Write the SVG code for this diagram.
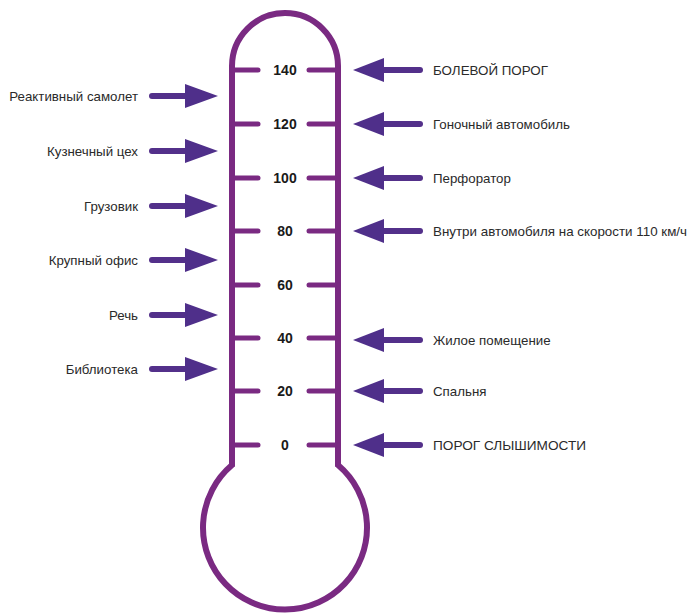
<svg xmlns="http://www.w3.org/2000/svg" width="690" height="615" viewBox="0 0 690 615">
<style>
.thermo{fill:none;stroke:#7A2A82;stroke-width:6;stroke-linejoin:miter}
.tick{stroke:#7A2A82;stroke-width:5;stroke-linecap:round}
.num{font-family:"Liberation Sans",Arial,sans-serif;font-weight:bold;font-size:14px;fill:#1a1a1a;text-anchor:middle}
.lbl{font-family:"Liberation Sans",Arial,sans-serif;font-size:13.3px;fill:#2a2a2a}
.lbl.l{text-anchor:end}
.shaft{stroke:#53308A;stroke-width:6;stroke-linecap:round}
.head{fill:#4F2F8A}
</style>
<defs>
<g id="arrR"><line class="shaft" x1="-66" y1="0" x2="-30" y2="0"/><polygon class="head" points="0,0 -33,-12 -33,12"/></g>
<g id="arrL"><line class="shaft" x1="67" y1="0" x2="30" y2="0"/><polygon class="head" points="0,0 31,-12 31,12"/></g>
</defs>
<g id="thermometer">
<path class="thermo" d="M232,66 A53,53 0 0 1 338,66 L338,465 A82,82 0 1 1 232,465 Z"/>
</g>
<g id="scale">
<g id="t140"><line class="tick" x1="232" y1="70" x2="258" y2="70"/><line class="tick" x1="309" y1="70" x2="338" y2="70"/><text class="num" x="285" y="75">140</text></g>
<g id="t120"><line class="tick" x1="232" y1="124" x2="258" y2="124"/><line class="tick" x1="309" y1="124" x2="338" y2="124"/><text class="num" x="285" y="129">120</text></g>
<g id="t100"><line class="tick" x1="232" y1="178" x2="258" y2="178"/><line class="tick" x1="309" y1="178" x2="338" y2="178"/><text class="num" x="285" y="183">100</text></g>
<g id="t80"><line class="tick" x1="232" y1="231" x2="258" y2="231"/><line class="tick" x1="309" y1="231" x2="338" y2="231"/><text class="num" x="285" y="236">80</text></g>
<g id="t60"><line class="tick" x1="232" y1="285" x2="258" y2="285"/><line class="tick" x1="309" y1="285" x2="338" y2="285"/><text class="num" x="285" y="290">60</text></g>
<g id="t40"><line class="tick" x1="232" y1="338" x2="258" y2="338"/><line class="tick" x1="309" y1="338" x2="338" y2="338"/><text class="num" x="285" y="343">40</text></g>
<g id="t20"><line class="tick" x1="232" y1="391" x2="258" y2="391"/><line class="tick" x1="309" y1="391" x2="338" y2="391"/><text class="num" x="285" y="396">20</text></g>
<g id="t0"><line class="tick" x1="232" y1="445" x2="258" y2="445"/><line class="tick" x1="309" y1="445" x2="338" y2="445"/><text class="num" x="285" y="450">0</text></g>
</g>
<g id="connectors">
<use href="#arrR" x="218" y="96"/>
<use href="#arrR" x="218" y="151"/>
<use href="#arrR" x="218" y="206"/>
<use href="#arrR" x="218" y="260"/>
<use href="#arrR" x="218" y="315"/>
<use href="#arrR" x="218" y="369"/>
<use href="#arrL" x="353" y="70"/>
<use href="#arrL" x="353" y="124"/>
<use href="#arrL" x="353" y="178"/>
<use href="#arrL" x="353" y="231"/>
<use href="#arrL" x="353" y="340"/>
<use href="#arrL" x="353" y="391"/>
<use href="#arrL" x="353" y="445"/>
</g>
<g id="left-labels">
<g id="jet"><text class="lbl l" x="138" y="101">Реактивный самолет</text></g>
<g id="forge"><text class="lbl l" x="138" y="156">Кузнечный цех</text></g>
<g id="truck"><text class="lbl l" x="138" y="211">Грузовик</text></g>
<g id="office"><text class="lbl l" x="138" y="265">Крупный офис</text></g>
<g id="speech"><text class="lbl l" x="138" y="320">Речь</text></g>
<g id="library"><text class="lbl l" x="138" y="374">Библиотека</text></g>
</g>
<g id="right-labels">
<g id="pain"><text class="lbl" x="433" y="75" textLength="115" lengthAdjust="spacingAndGlyphs">БОЛЕВОЙ ПОРОГ</text></g>
<g id="race"><text class="lbl" x="433" y="129">Гоночный автомобиль</text></g>
<g id="drill"><text class="lbl" x="433" y="183">Перфоратор</text></g>
<g id="car"><text class="lbl" x="433" y="236" textLength="254" lengthAdjust="spacingAndGlyphs">Внутри автомобиля на скорости 110 км/ч</text></g>
<g id="home"><text class="lbl" x="433" y="345">Жилое помещение</text></g>
<g id="bedroom"><text class="lbl" x="433" y="396">Спальня</text></g>
<g id="hearing"><text class="lbl" x="433" y="450" textLength="153" lengthAdjust="spacingAndGlyphs">ПОРОГ СЛЫШИМОСТИ</text></g>
</g>
</svg>
